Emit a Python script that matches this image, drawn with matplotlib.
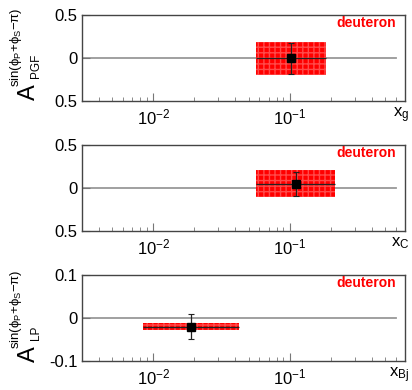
import matplotlib
matplotlib.use('Agg')
import matplotlib.pyplot as plt
from matplotlib.patches import Rectangle
from matplotlib.ticker import FixedLocator, LogLocator, NullFormatter

plt.rcParams['font.family'] = ['Liberation Sans', 'DejaVu Sans']
plt.rcParams['mathtext.fontset'] = 'custom'
plt.rcParams['mathtext.rm'] = 'Liberation Sans'
plt.rcParams['mathtext.it'] = 'Liberation Sans'
plt.rcParams['mathtext.sf'] = 'Liberation Sans'

# data per panel: x, x bin edges, y, stat error, syst error
x_pts = [0.103, 0.111, 0.0188]
x_lo = [0.0565, 0.057, 0.0084]
x_hi = [0.186, 0.215, 0.0423]
y_pts = [-0.005, 0.05, -0.02]
stat_err = [0.18, 0.14, 0.029]
syst_err = [0.19, 0.155, 0.009]
y_ranges = [(-0.5, 0.5), (-0.5, 0.5), (-0.1, 0.1)]
y_ticks = [[-0.5, 0, 0.5], [-0.5, 0, 0.5], [-0.1, 0, 0.1]]
y_ticklabels = [['0.5', '0', '0.5'], ['0.5', '0', '0.5'], ['-0.1', '0', '0.1']]
x_labels = [r'x$_\mathrm{g}$', r'x$_\mathrm{C}$', r'x$_\mathrm{Bj}$']
y_subs = ['PGF', None, 'LP']
y_sup = r'sin($\phi_\mathrm{P}$+$\phi_\mathrm{S}$$-\pi$)'
x_min, x_max = 0.003, 0.7

W, H = 412, 390
fig = plt.figure(figsize=(W / 100, H / 100), dpi=100)
panel_bottom_px = [101, 231, 361]
label_base_px = [100, None, 362]


def fx(px):
    return px / W


def fy(py):
    return 1 - py / H


for i in range(3):
    ax = fig.add_axes([fx(82), fy(panel_bottom_px[i]), fx(323), 86 / H])
    ax.set_xscale('log')
    ax.set_xlim(x_min, x_max)
    ax.set_ylim(*y_ranges[i])
    ax.axhline(0, xmin=0, xmax=0.972, color='#999999', lw=1.3, zorder=1)

    rect = Rectangle((x_lo[i], y_pts[i] - syst_err[i]), x_hi[i] - x_lo[i], 2 * syst_err[i],
                     facecolor='#ff0000', edgecolor='#ff4a4a', hatch='+++', lw=0, zorder=2)
    ax.add_patch(rect)
    # bin width (no caps)
    ax.errorbar([x_pts[i]], [y_pts[i]],
                xerr=[[x_pts[i] - x_lo[i]], [x_hi[i] - x_pts[i]]],
                fmt='none', ecolor='#222222', elinewidth=0.9, capsize=0, zorder=3)
    # statistical error
    ax.errorbar([x_pts[i]], [y_pts[i]], yerr=[[stat_err[i]], [stat_err[i]]],
                fmt='s', color='black', ms=6, elinewidth=0.9, ecolor='#222222',
                capsize=2, capthick=0.8, zorder=4)

    ax.set_yticks(y_ticks[i])
    ax.set_yticklabels(y_ticklabels[i])
    ax.xaxis.set_major_locator(FixedLocator([0.01, 0.1]))
    ax.set_xticklabels([r'10$^{-2}$', r'10$^{-1}$'])
    ax.xaxis.set_minor_locator(LogLocator(base=10, subs=range(2, 10)))
    ax.xaxis.set_minor_formatter(NullFormatter())
    ax.tick_params(axis='both', which='major', direction='in', labelsize=12,
                   length=6, width=0.8, color='#777777', top=False, right=False)
    ax.tick_params(axis='x', which='minor', direction='in', length=3, width=0.6,
                   color='#777777', top=False)
    ax.tick_params(axis='x', pad=5)
    ax.tick_params(axis='y', pad=3)
    for s in ax.spines.values():
        s.set_color('#444444')
        s.set_linewidth(1.0)

    ax.text(0.972, 0.905, 'deuteron', color='red', fontsize=10, fontweight='bold',
            ha='right', va='center', transform=ax.transAxes)
    ax.text(1.013, -0.05, x_labels[i], fontsize=12, ha='right', va='top',
            transform=ax.transAxes)

    if y_subs[i]:
        base = label_base_px[i]
        fig.text(fx(35), fy(base), 'A', fontsize=17, rotation=90,
                 rotation_mode='anchor', ha='left', va='baseline')
        fig.text(fx(38.5), fy(base - 22.5), y_subs[i], fontsize=8.5, rotation=90,
                 rotation_mode='anchor', ha='left', va='baseline')
        fig.text(fx(19), fy(base - 13), y_sup, fontsize=9.5, rotation=90,
                 rotation_mode='anchor', ha='left', va='baseline')

fig.savefig('out.png', dpi=100)
